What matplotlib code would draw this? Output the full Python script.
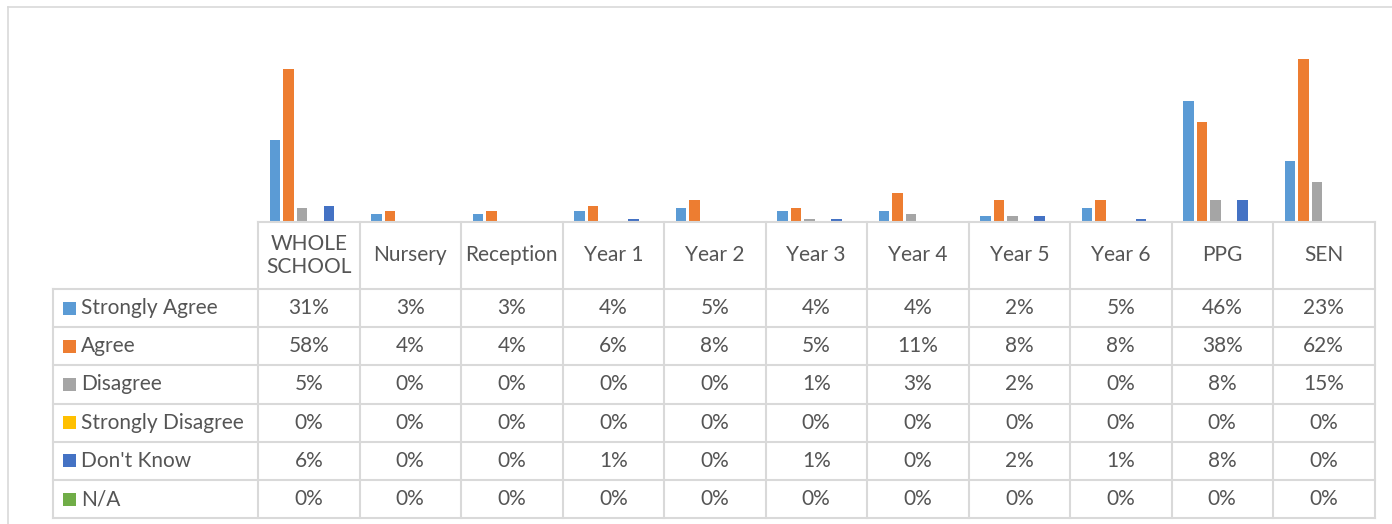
import numpy as np
import matplotlib.pyplot as plt

# data
categories = ['WHOLE\nSCHOOL', 'Nursery', 'Reception', 'Year 1', 'Year 2', 'Year 3',
              'Year 4', 'Year 5', 'Year 6', 'PPG', 'SEN']
series = ['Strongly Agree', 'Agree', 'Disagree', 'Strongly Disagree', "Don't Know", 'N/A']
strongly_agree = [31, 3, 3, 4, 5, 4, 4, 2, 5, 46, 23]
agree = [58, 4, 4, 6, 8, 5, 11, 8, 8, 38, 62]
disagree = [5, 0, 0, 0, 0, 1, 3, 2, 0, 8, 15]
strongly_disagree = [0, 0, 0, 0, 0, 0, 0, 0, 0, 0, 0]
dont_know = [6, 0, 0, 1, 0, 1, 0, 2, 1, 8, 0]
na = [0, 0, 0, 0, 0, 0, 0, 0, 0, 0, 0]
values = [strongly_agree, agree, disagree, strongly_disagree, dont_know, na]
colors = ['#5B9BD5', '#ED7D31', '#A5A5A5', '#FFC000', '#4472C4', '#70AD47']

plt.rcParams['font.family'] = ['Lato', 'DejaVu Sans']
txt_col = '#555555'
grid_col = '#D9D9D9'

W, H = 1392, 524
fig = plt.figure(figsize=(W / 100, H / 100), dpi=100)

# layout in pixels
x0, x1 = 258, 1374.5          # category columns
lab_x = 53                    # left of row-label column
base_y = 221.5                # bar baseline / table top
px_per = 2.628                # pixels per percent
ymax = 70
rows_y = [289 + i * 38.2 for i in range(len(series) + 1)]

# bars
ax = fig.add_axes([x0 / W, (H - base_y) / H, (x1 - x0) / W, ymax * px_per / H])
n = len(categories)
x = np.arange(n)
step, bw = 0.133, 0.103
for k, (vals, c) in enumerate(zip(values, colors)):
    ax.bar(x + (k - 2.5) * step, vals, width=bw, color=c, linewidth=0)
ax.set_xlim(-0.5, n - 0.5)
ax.set_ylim(0, ymax)
ax.axis('off')

# table + frame drawn in pixel space
tb = fig.add_axes([0, 0, 1, 1])
tb.set_xlim(0, W)
tb.set_ylim(H, 0)
tb.axis('off')

# outer chart border
tb.plot([8, W + 5], [7.3, 7.3], color=grid_col, lw=1.2)
tb.plot([8, 8], [7.3, H + 5], color=grid_col, lw=1.2)

cw = (x1 - x0) / n
col_edges = [x0 + i * cw for i in range(n + 1)]
lw = 1.5
# header top line
tb.plot([x0, x1], [base_y, base_y], color=grid_col, lw=lw)
for yy in rows_y:
    tb.plot([lab_x, x1], [yy, yy], color=grid_col, lw=lw)
for xx in col_edges:
    tb.plot([xx, xx], [base_y, rows_y[-1]], color=grid_col, lw=lw)
tb.plot([lab_x, lab_x], [rows_y[0], rows_y[-1]], color=grid_col, lw=lw)

fs = 15
for i, cat in enumerate(categories):
    cx = x0 + (i + 0.5) * cw
    tb.text(cx, (base_y + rows_y[0]) / 2, cat, ha='center', va='center',
            fontsize=fs, color=txt_col, linespacing=1.2)
    for r, vals in enumerate(values):
        cy = (rows_y[r] + rows_y[r + 1]) / 2
        tb.text(cx, cy, f'{vals[i]}%', ha='center', va='center', fontsize=fs, color=txt_col)

for r, (name, c) in enumerate(zip(series, colors)):
    cy = (rows_y[r] + rows_y[r + 1]) / 2
    tb.add_patch(plt.Rectangle((62.5, cy - 6.5), 13, 13, color=c, lw=0))
    tb.text(81, cy, name, ha='left', va='center', fontsize=fs, color=txt_col)

fig.savefig('out.png', dpi=100)
